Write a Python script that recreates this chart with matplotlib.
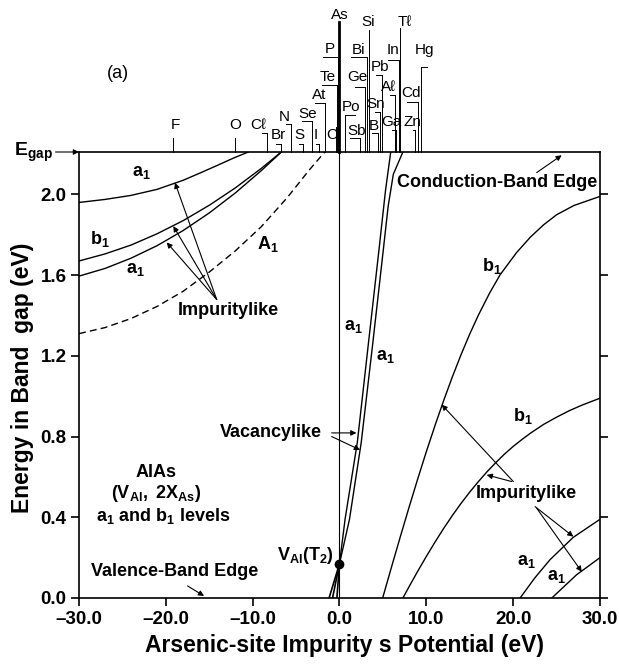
import matplotlib
matplotlib.use('Agg')
import matplotlib.pyplot as plt

plt.rcParams['font.family'] = ['Liberation Sans', 'DejaVu Sans']
plt.rcParams['mathtext.fontset'] = 'custom'
plt.rcParams['mathtext.rm'] = 'Liberation Sans'
plt.rcParams['mathtext.bf'] = 'Liberation Sans:bold'
plt.rcParams['mathtext.it'] = 'Liberation Sans:italic'

# impurity s potentials marked on the top edge
elements = ['F', 'O', 'Cℓ', 'Br', 'N', 'S', 'Se', 'I', 'At', 'C', 'Te', 'P', 'As', 'Po',
            'Sb', 'Ge', 'Bi', 'Si', 'B', 'Sn', 'Pb', 'Aℓ', 'Ga', 'In', 'Tℓ', 'Zn', 'Cd', 'Hg']
potentials = [-19.16, -11.98, -8.33, -6.68, -5.53, -4.18, -3.22, -2.40, -1.69, -0.46, -0.31, -0.12,
              0.0, 0.69, 2.34, 2.92, 3.11, 3.38, 4.38, 4.64, 4.84, 6.37, 6.56, 6.83, 7.02, 8.68, 9.06, 9.44]
# label placement above the axes (x in eV, height in axes fraction)
label_x = [-18.89, -11.98, -9.37, -6.99, -6.37, -4.57, -3.69, -2.75, -2.38, -0.95, -1.31, -1.11,
           0.04, 1.31, 1.96, 2.07, 2.23, 3.30, 3.99, 4.18, 4.64, 5.68, 5.95, 6.18, 7.52, 8.45, 8.29, 9.83]
label_h = [1.0605, 1.0605, 1.0605, 1.0381, 1.0792, 1.0381, 1.0852, 1.0381, 1.1278, 1.0381, 1.1689, 1.2302,
           1.3072, 1.1016, 1.0478, 1.1689, 1.2287, 1.2922, 1.0583, 1.1076, 1.1913, 1.1450, 1.0680, 1.2287,
           1.2922, 1.0680, 1.1315, 1.2287]
bracket_x = [None, None, -8.91, -7.26, -6.18, -4.68, -4.30, -2.75, -2.84, None, -2.07, -1.88,
             None, 1.77, 1.19, 1.77, 1.38, None, 3.76, 4.07, 4.26, 5.80, 6.05, 5.60, None, 8.48, 7.72, 10.02]
bracket_h = [1.0307, 1.0307, 1.0419, 1.0179, 1.0628, 1.0172, 1.0703, 1.0179, 1.1090, 1.0550, 1.1502, 1.2123,
             1.2922, 1.0830, 1.0307, 1.1465, 1.2123, 1.2735, 1.0419, 1.0904, 1.1726, 1.1278, 1.0494, 1.2063,
             1.2773, 1.0494, 1.1128, 1.1913]

E_GAP = 2.21

# left-hand levels
a1_top_x = [-30, -27, -24, -21, -18, -16, -14, -12.2, -10.5]
a1_top_e = [1.960, 1.975, 1.995, 2.025, 2.070, 2.107, 2.145, 2.180, 2.21]
b1_left_x = [-30, -27, -24, -21, -18, -15, -12, -9, -6.7]
b1_left_e = [1.670, 1.705, 1.749, 1.805, 1.870, 1.946, 2.032, 2.129, 2.21]
a1_left_x = [-30, -27, -24, -21, -18, -15, -12, -9, -6.7]
a1_left_e = [1.595, 1.633, 1.684, 1.746, 1.821, 1.908, 2.007, 2.118, 2.21]
A1_x = [-30, -27, -24, -21, -18, -15, -12, -9, -6, -3.5, -1.7]
A1_e = [1.31, 1.34, 1.385, 1.445, 1.52, 1.615, 1.72, 1.84, 1.985, 2.12, 2.21]

# vacancylike levels near As
vac_low = [(-1.2, 0.0), (-0.8, 0.0), (-0.3, 0.0)]
vac_a_x = [0.0, 0.64, 2.05, 3.3, 4.55, 5.3, 5.9]
vac_a_e = [0.17, 0.39, 0.77, 1.25, 1.727, 2.02, 2.21]
vac_b_x = [0.0, 1.15, 2.5, 3.8, 5.05, 5.6, 6.2, 7.3]
vac_b_e = [0.17, 0.39, 0.77, 1.25, 1.727, 1.94, 2.10, 2.21]
VAL_T2 = (0.0, 0.17)

# right-hand levels
b1_r1_x = [4.97, 6, 7, 8, 9, 10, 11, 12, 13, 14, 15, 16, 17.3, 18.5, 20.4, 22, 23.5, 25, 27, 30]
b1_r1_e = [0.0, 0.155, 0.303, 0.448, 0.589, 0.725, 0.855, 0.979, 1.096, 1.206, 1.308, 1.402,
           1.512, 1.602, 1.712, 1.789, 1.849, 1.899, 1.945, 1.99]
b1_r2_x = [7.3, 8, 9, 10, 11, 12, 13, 14, 15, 16, 17, 18, 19, 20, 21, 22, 23.5, 25, 26.5, 28, 30]
b1_r2_e = [0.0, 0.055, 0.132, 0.206, 0.277, 0.345, 0.409, 0.469, 0.525, 0.577, 0.626, 0.671,
           0.713, 0.751, 0.785, 0.817, 0.860, 0.896, 0.929, 0.957, 0.99]
a1_r1_x = [20.8, 22.5, 24.25, 26.9, 30]
a1_r1_e = [0.0, 0.10, 0.19, 0.30, 0.39]
a1_r2_x = [24.45, 27.3, 30]
a1_r2_e = [0.0, 0.115, 0.20]

fig = plt.figure(figsize=(6.19, 6.68), dpi=100)
ax = fig.add_axes([79 / 619, 1 - 598 / 668, 521 / 619, 446 / 668])
ax.set_xlim(-30, 30)
ax.set_ylim(0, E_GAP)

lw = 1.0
ax.plot(a1_top_x, a1_top_e, 'k-', lw=lw)
ax.plot(b1_left_x, b1_left_e, 'k-', lw=lw)
ax.plot(a1_left_x, a1_left_e, 'k-', lw=lw)
ax.plot(A1_x, A1_e, 'k--', lw=lw, dashes=(5, 3))
for x0, e0 in vac_low:
    ax.plot([x0, VAL_T2[0]], [e0, VAL_T2[1]], 'k-', lw=1.2)
ax.plot(vac_a_x, vac_a_e, 'k-', lw=lw)
ax.plot(vac_b_x, vac_b_e, 'k-', lw=lw)
ax.plot(b1_r1_x, b1_r1_e, 'k-', lw=lw)
ax.plot(b1_r2_x, b1_r2_e, 'k-', lw=lw)
ax.plot(a1_r1_x, a1_r1_e, 'k-', lw=lw)
ax.plot(a1_r2_x, a1_r2_e, 'k-', lw=lw)
ax.axvline(0, color='k', lw=0.8)
ax.plot(*VAL_T2, 'ko', ms=6, clip_on=False, zorder=5)

# element markers on top edge
tr = ax.get_xaxis_transform()
for name, p, lx, lh, bx, bh in zip(elements, potentials, label_x, label_h, bracket_x, bracket_h):
    w = 2.0 if name == 'As' else 0.7
    ax.plot([p, p], [1.0, bh], color='k', lw=w, transform=tr, clip_on=False)
    if bx is not None:
        ax.plot([bx, p], [bh, bh], color='k', lw=0.7, transform=tr, clip_on=False)
    ax.text(lx, lh, name, transform=tr, ha='center', va='center', fontsize=11)

# axes styling
for s in ax.spines.values():
    s.set_linewidth(1.2)
ax.set_xticks([-30, -20, -10, 0, 10, 20, 30])
ax.set_xticklabels(['–30.0', '–20.0', '–10.0', '0.0', '10.0', '20.0', '30.0'])
ax.set_yticks([0, 0.4, 0.8, 1.2, 1.6, 2.0])
ax.set_yticklabels(['0.0', '0.4', '0.8', '1.2', '1.6', '2.0'])
ax.tick_params(axis='both', direction='out', length=6, width=1.2, labelsize=13.5, pad=3)
ax.tick_params(axis='y', right=True)
for t in ax.get_xticklabels() + ax.get_yticklabels():
    t.set_fontweight('bold')

fig.text(0.556, 0.034, 'Arsenic-site Impurity s Potential (eV)', ha='center', va='center',
         fontsize=16.5, fontweight='bold')
fig.text(0.036, 0.435, 'Energy in Band  gap (eV)', ha='center', va='center', rotation=90,
         fontsize=16.5, fontweight='bold')

ap = dict(arrowstyle='-|>', lw=0.8, color='k', mutation_scale=8, shrinkA=0, shrinkB=0)
bf = dict(fontsize=13, fontweight='bold', ha='center', va='center')

ax.text(-25.5, 2.60, '(a)', fontsize=13, ha='center', va='center')
ax.annotate('', xy=(-30, E_GAP), xytext=(-32.7, E_GAP), arrowprops=ap, annotation_clip=False)
ax.text(-33.0, E_GAP, r'$\mathbf{E_{gap}}$', fontsize=14, ha='right', va='center')

ax.text(-22.8, 2.108, r'$\mathbf{a_1}$', **bf)
ax.text(-27.6, 1.777, r'$\mathbf{b_1}$', **bf)
ax.text(-23.55, 1.628, r'$\mathbf{a_1}$', **bf)
ax.text(-8.2, 1.752, r'$\mathbf{A_1}$', **bf)
ax.text(-12.84, 1.424, 'Impuritylike', **bf)
for tip in [(-18.95, 2.058), (-19.14, 1.843), (-19.9, 1.762)]:
    ax.annotate('', xy=tip, xytext=(-14.14, 1.479), arrowprops=ap)

ax.text(1.59, 1.346, r'$\mathbf{a_1}$', **bf)
ax.text(5.24, 1.198, r'$\mathbf{a_1}$', **bf)
ax.text(-7.95, 0.819, 'Vacancylike', **bf)
ax.annotate('', xy=(1.95, 0.818), xytext=(-0.9, 0.818), arrowprops=ap)
ax.annotate('', xy=(2.36, 0.734), xytext=(-0.9, 0.80), arrowprops=ap)
ax.text(-3.97, 0.213, r'$\mathbf{V_{Al}(T_2)}$', **bf)

ax.text(-18.95, 0.129, 'Valence-Band Edge', **bf)
ax.annotate('', xy=(-15.6, 0.01), xytext=(-17.5, 0.06), arrowprops=ap)
ax.text(-21.1, 0.62, 'AlAs', **bf)
ax.text(-21.1, 0.516, r'$\mathbf{(V_{Al},\ 2X_{As})}$', **bf)
ax.text(-20.3, 0.407, r'$\mathbf{a_1}$ and $\mathbf{b_1}$ levels', **bf)

ax.text(18.2, 2.061, 'Conduction-Band Edge', **bf)
ax.annotate('', xy=(25.59, 2.194), xytext=(22.71, 2.108), arrowprops=ap)
ax.text(17.53, 1.644, r'$\mathbf{b_1}$', **bf)
ax.text(21.17, 0.90, r'$\mathbf{b_1}$', **bf)
ax.text(21.56, 0.52, 'Impuritylike', **bf)
ax.annotate('', xy=(11.77, 0.958), xytext=(20.02, 0.577), arrowprops=ap)
ax.annotate('', xy=(16.95, 0.61), xytext=(19.83, 0.577), arrowprops=ap)
ax.annotate('', xy=(26.93, 0.304), xytext=(22.52, 0.453), arrowprops=ap)
ax.annotate('', xy=(27.9, 0.13), xytext=(22.71, 0.445), arrowprops=ap)
ax.text(21.56, 0.18, r'$\mathbf{a_1}$', **bf)
ax.text(25.01, 0.106, r'$\mathbf{a_1}$', **bf)

fig.savefig('out.png', dpi=100)
